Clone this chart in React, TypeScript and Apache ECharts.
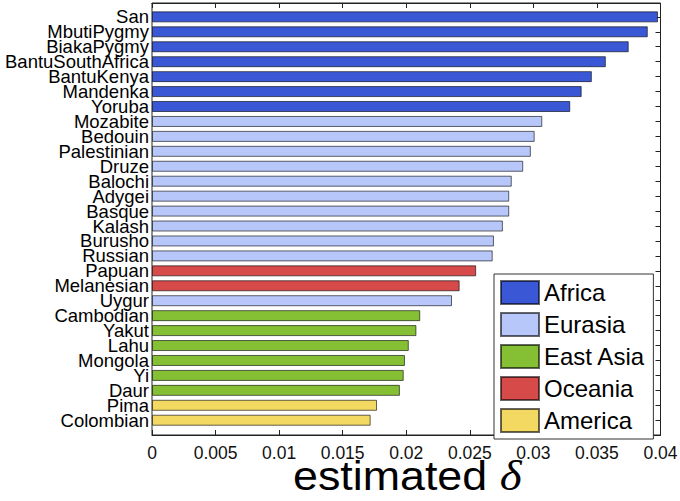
import React, { useEffect, useRef } from "react";
import * as echarts from "echarts";

const categories = [
  "San", "MbutiPygmy", "BiakaPygmy", "BantuSouthAfrica", "BantuKenya", "Mandenka", "Yoruba",
  "Mozabite", "Bedouin", "Palestinian", "Druze", "Balochi", "Adygei", "Basque", "Kalash",
  "Burusho", "Russian", "Papuan", "Melanesian", "Uygur", "Cambodian", "Yakut", "Lahu",
  "Mongola", "Yi", "Daur", "Pima", "Colombian",
];
const values = [
  0.0398, 0.0390, 0.0375, 0.0357, 0.0346, 0.0338, 0.0329,
  0.0307, 0.0301, 0.0298, 0.0292, 0.0283, 0.0281, 0.0281, 0.0276,
  0.0269, 0.0268, 0.0255, 0.0242, 0.0236, 0.0211, 0.0208, 0.0202,
  0.0199, 0.0198, 0.0195, 0.0177, 0.0172,
];
const regionOf = [
  "Africa", "Africa", "Africa", "Africa", "Africa", "Africa", "Africa",
  "Eurasia", "Eurasia", "Eurasia", "Eurasia", "Eurasia", "Eurasia", "Eurasia", "Eurasia",
  "Eurasia", "Eurasia", "Oceania", "Oceania", "Eurasia", "East Asia", "East Asia", "East Asia",
  "East Asia", "East Asia", "East Asia", "America", "America",
];
const regions = ["Africa", "Eurasia", "East Asia", "Oceania", "America"];
const regionColors = ["#3a58d6", "#b8c7fa", "#85c034", "#d64a4a", "#f3d862"];
const xTicks = [0, 0.005, 0.01, 0.015, 0.02, 0.025, 0.03, 0.035, 0.04];
const xTitle = "estimated ";
const xTitleSymbol = "δ";

const FONT = "'Liberation Sans', Arial, Helvetica, sans-serif";

export default function App() {
  const ref = useRef<HTMLDivElement>(null);
  useEffect(() => {
    if (!ref.current) return;
    const chart = echarts.init(ref.current, null, { renderer: "svg" });
    const left = 152;
    const right = 680 - 660.5;
    const series = regions.map((r, ri) => ({
      name: r,
      type: "bar",
      xAxisIndex: 2,
      yAxisIndex: 1,
      stack: "all",
      barWidth: 11,
      data: values.map((v, i) => (regionOf[i] === r ? v : "-")),
      itemStyle: {
        color: regionColors[ri],
        borderColor: "rgba(0,0,0,0.6)",
        borderWidth: 1,
      },
    }));
    chart.setOption({
      animation: false,
      backgroundColor: "#fff",
      textStyle: { fontFamily: FONT },
      graphic: [
        {
          type: "text",
          x: 293,
          y: 476,
          scaleX: 1.12,
          style: {
            text: `{a|${xTitle}}{b|${xTitleSymbol}}`,
            align: "left",
            verticalAlign: "middle",
            rich: {
              a: { fontSize: 40, lineHeight: 30, fontFamily: FONT, fill: "#000", color: "#000" },
              b: {
                fontSize: 42, lineHeight: 30, fontStyle: "italic",
                fontFamily: "'Liberation Serif', 'DejaVu Serif', serif", fill: "#000", color: "#000",
              },
            },
          },
        },
      ],
      grid: [
        {
          left, right, top: 3, bottom: 501 - 435,
          outerBoundsMode: "none", containLabel: false,
          show: true, borderColor: "#222", borderWidth: 1, backgroundColor: "transparent",
        },
        { left, right, top: 9.4, height: 418.3, outerBoundsMode: "none", containLabel: false },
      ],
      xAxis: [
        {
          gridIndex: 0, type: "value", position: "bottom", min: 0, max: 0.04, interval: 0.005,
          axisLine: { show: true, lineStyle: { color: "#222" } },
          axisTick: { show: true, inside: true, length: 5, lineStyle: { color: "#222" } },
          axisLabel: {
            show: true, margin: 9, fontSize: 17.5, color: "#111", fontFamily: FONT,
            formatter: (v: number) => {
              const idx = xTicks.findIndex((t) => Math.abs(t - v) < 1e-9);
              return idx >= 0 ? String(xTicks[idx]) : "";
            },
          },
          splitLine: { show: false },
        },
        {
          gridIndex: 0, type: "value", position: "top", min: 0, max: 0.04, interval: 0.005,
          axisLine: { show: true, lineStyle: { color: "#222" } },
          axisTick: { show: true, inside: true, length: 5, lineStyle: { color: "#222" } },
          axisLabel: { show: false },
          splitLine: { show: false },
        },
        {
          gridIndex: 1, type: "value", min: 0, max: 0.04, show: false,
        },
      ],
      yAxis: [
        {
          gridIndex: 0, type: "value", min: 0, max: 1, show: false,
        },
        {
          gridIndex: 1, type: "category", data: categories, inverse: true, position: "left",
          axisLine: { show: false },
          axisTick: { show: false },
          axisLabel: {
            interval: 0, margin: 3, fontSize: 18.5, lineHeight: 14, color: "#000", fontFamily: FONT,
          },
        },
        {
          gridIndex: 1, type: "category", data: categories, inverse: true, position: "right",
          axisLine: { show: false },
          axisTick: {
            show: true, inside: true, length: 5, alignWithLabel: true, interval: 0,
            lineStyle: { color: "#222" },
          },
          axisLabel: { show: false },
        },
      ],
      legend: {
        orient: "vertical",
        left: 494,
        top: 274,
        data: regions,
        icon: "rect",
        itemWidth: 38,
        itemHeight: 23,
        itemGap: 7,
        padding: [6, 8, 6, 6],
        backgroundColor: "#fff",
        borderColor: "#333",
        borderWidth: 1,
        selectedMode: false,
        textStyle: { fontSize: 24, lineHeight: 23, color: "#000", fontFamily: FONT },
      },
      series,
    });
    return () => chart.dispose();
  }, []);
  return <div ref={ref} style={{ width: 680, height: 501, position: "absolute", left: 0, top: 0 }} />;
}
